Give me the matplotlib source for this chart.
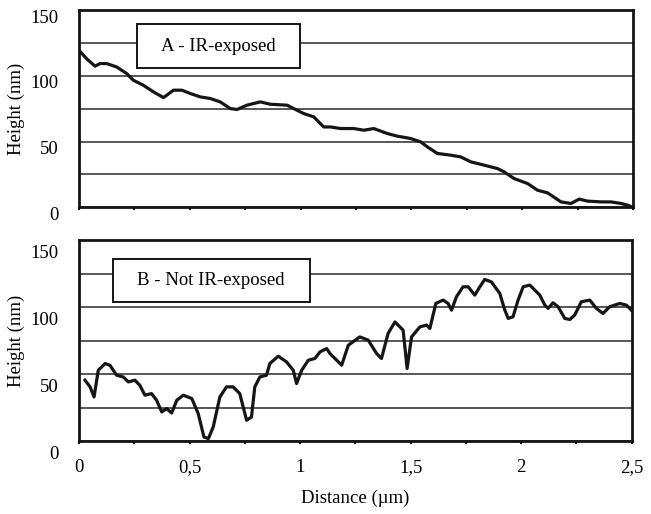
import numpy as np
import matplotlib
matplotlib.use("Agg")
import matplotlib.pyplot as plt
from matplotlib.patches import Rectangle
from matplotlib.transforms import ScaledTranslation

plt.rcParams['font.family'] = ['Liberation Serif', 'DejaVu Serif']

# profile A - IR-exposed
dist_a = [0.0, 0.035, 0.072, 0.095, 0.125, 0.17, 0.215, 0.245, 0.29, 0.336, 0.381, 0.396,
          0.426, 0.464, 0.502, 0.547, 0.592, 0.637, 0.683, 0.713, 0.758, 0.818, 0.863, 0.939,
          0.969, 1.014, 1.059, 1.104, 1.135, 1.18, 1.24, 1.285, 1.33, 1.391, 1.436, 1.496,
          1.542, 1.572, 1.617, 1.677, 1.722, 1.768, 1.828, 1.888, 1.918, 1.963, 2.024, 2.069,
          2.114, 2.175, 2.22, 2.257, 2.295, 2.355, 2.4, 2.446, 2.476, 2.49]
height_a = [119.5, 113, 107.4, 109.4, 109.4, 106.8, 101.8, 96.7, 92.9, 87.8, 83.5, 85.3,
            89.1, 89.1, 86.6, 84, 82.8, 80.2, 75.1, 74.4, 77.7, 80.2, 78.4, 77.7,
            75.1, 71.3, 68.8, 61.1, 61.1, 59.9, 59.9, 58.6, 59.9, 56.1, 54.1, 52.3,
            49.7, 45.9, 40.9, 39.6, 38.3, 34.5, 32, 29.4, 26.9, 21.8, 18, 12.9,
            10.9, 4, 2.8, 6.1, 4.6, 4, 4, 2.8, 1.5, 0.5]

# profile B - Not IR-exposed
dist_b = [0.027, 0.05, 0.068, 0.087, 0.118, 0.14, 0.17, 0.2, 0.223, 0.253, 0.275, 0.298,
          0.328, 0.351, 0.374, 0.396, 0.419, 0.442, 0.472, 0.51, 0.539, 0.565, 0.585, 0.607,
          0.637, 0.667, 0.697, 0.727, 0.758, 0.78, 0.795, 0.818, 0.848, 0.863, 0.901, 0.939,
          0.969, 0.984, 1.007, 1.037, 1.067, 1.09, 1.12, 1.135, 1.188, 1.218, 1.27, 1.308,
          1.346, 1.368, 1.398, 1.429, 1.466, 1.484, 1.504, 1.542, 1.572, 1.587, 1.614, 1.647,
          1.669, 1.685, 1.707, 1.737, 1.76, 1.79, 1.813, 1.835, 1.865, 1.903, 1.926, 1.941,
          1.963, 1.986, 2.009, 2.039, 2.084, 2.107, 2.122, 2.144, 2.167, 2.197, 2.22, 2.242,
          2.272, 2.31, 2.34, 2.37, 2.4, 2.446, 2.476, 2.498]
height_b = [45.4, 40.4, 32.9, 52.8, 57.8, 56.5, 49.1, 47.8, 44.1, 45.4, 41.6, 34.2,
            35.4, 30.4, 21.7, 24.2, 20.9, 30.4, 34.2, 31.7, 20.5, 3, 1.8, 10.5,
            32.9, 40.4, 40.4, 35.4, 15.5, 17.9, 40.4, 47.8, 49.1, 57.8, 63.3, 59,
            52.8, 42.9, 52.8, 60.3, 61.6, 66.5, 69, 65.3, 56.6, 71.5, 77.7, 75.3,
            65.3, 61.6, 80.3, 88.9, 82.7, 54.1, 77.7, 85.2, 86.5, 84, 102.7, 105.2,
            102.7, 97.7, 107.6, 115.1, 115.1, 108.9, 115.1, 120.6, 118.8, 110.2, 97.7, 91.5,
            92.7, 105.2, 115.1, 116.4, 108.9, 101.4, 99, 103.2, 100.2, 91.5, 90.7, 94,
            103.9, 105.2, 99, 95.2, 100.2, 102.7, 101.4, 97.7]

y_ticks = [0, 50, 100, 150]
x_ticks = [0, 0.5, 1, 1.5, 2, 2.5]
x_tick_labels = ['0', '0,5', '1', '1,5', '2', '2,5']

fig = plt.figure(figsize=(6.51, 5.14), dpi=100)
ax_a = fig.add_axes([0.1214, 0.597, 0.851, 0.383])
ax_b = fig.add_axes([0.1214, 0.142, 0.849, 0.391])

panels = [
    (ax_a, dist_a, height_a, 'A - IR-exposed', (0.105, 0.706, 0.294, 0.223), (0.251, 0.817), 0.06),
    (ax_b, dist_b, height_b, 'B - Not IR-exposed', (0.061, 0.692, 0.356, 0.214), (0.239, 0.801), 0.11),
]

for ax, x, y, label, box, txt, yoff in panels:
    ax.plot(x, y, color='#151515', lw=2.3, solid_joinstyle='round', zorder=4)
    ax.set_xlim(0, 2.5)
    ax.set_ylim(0, 150)
    ax.set_yticks(y_ticks)
    ax.set_yticks(np.arange(0, 151, 25), minor=True)
    ax.grid(True, axis='y', which='both', color='#2a2a2a', lw=1.1)
    ax.set_xticks(np.arange(0, 2.51, 0.25), minor=True)
    ax.set_xticks(x_ticks)
    ax.tick_params(axis='y', which='both', length=0, pad=15, labelsize=13.5)
    ax.tick_params(axis='x', which='both', direction='out', length=2, width=1.5,
                   labelsize=13.5, pad=11)
    for sp in ax.spines.values():
        sp.set_linewidth(2.0)
        sp.set_color('#151515')
    ax.set_ylabel('Height (nm)', fontsize=13.5, labelpad=4)
    for t in ax.get_yticklabels():
        t.set_transform(t.get_transform() + ScaledTranslation(0, -yoff, fig.dpi_scale_trans))
    ax.add_patch(Rectangle((box[0], box[1]), box[2], box[3], transform=ax.transAxes,
                           facecolor='white', edgecolor='#151515', lw=1.4, zorder=5))
    ax.text(txt[0], txt[1], label, transform=ax.transAxes, ha='center', va='center',
            fontsize=13.5, zorder=6)

ax_a.set_xticklabels([])
ax_b.set_xticklabels(x_tick_labels)
ax_b.set_xlabel('Distance (µm)', fontsize=13.5, labelpad=10)

fig.savefig('out.png', dpi=100)
